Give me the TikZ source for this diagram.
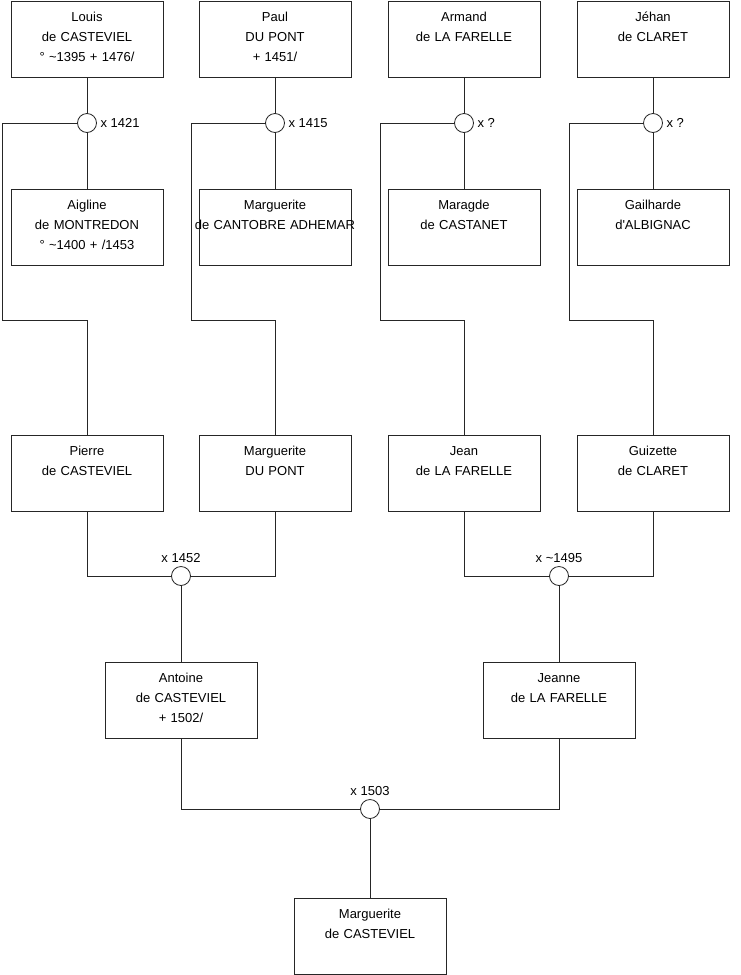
\documentclass[tikz,border=0pt]{standalone}
\usepackage{fontspec}
\setmainfont{Liberation Sans}
\usepackage{tikz}

\begin{document}
\begin{tikzpicture}[x=1pt, y=-1pt, line width=0.8pt,
  person/.style={draw=black!85, anchor=north, text width=140pt, align=center, inner xsep=6pt, inner ysep=8pt,
    text height=12pt, text depth=48pt, font=\fontsize{13}{20}\selectfont},
  wed/.style={draw=black!85, circle, fill=white, minimum size=19pt, inner sep=0pt},
  date/.style={font=\fontsize{13}{15}\selectfont},
  link/.style={draw=black!85}]
\useasboundingbox (0,0) rectangle (740,975);
% grandparents' parents
\node[person] (louis) at (87,1) {Louis\\de CASTEVIEL\\° \textasciitilde1395 + 1476/};
\node[person] (paul) at (275,1) {Paul\\DU PONT\\+ 1451/};
\node[person] (armand) at (464,1) {Armand\\de LA FARELLE};
\node[person] (jehan) at (653,1) {Jéhan\\de CLARET};
\node[wed, label={[date]right:x 1421}] (m1) at (87,123) {};
\node[wed, label={[date]right:x 1415}] (m2) at (275,123) {};
\node[wed, label={[date]right:x ?}] (m3) at (464,123) {};
\node[wed, label={[date]right:x ?}] (m4) at (653,123) {};
\node[person] (aigline) at (87,189) {Aigline\\de MONTREDON\\° \textasciitilde1400 + /1453};
\node[person] (margca) at (275,189) {Marguerite\\\makebox[140pt]{de CANTOBRE ADHEMAR}};
\node[person] (maragde) at (464,189) {Maragde\\de CASTANET};
\node[person] (gailh) at (653,189) {Gailharde\\d\textquotesingle ALBIGNAC};
% grandparents
\node[person] (pierre) at (87,435) {Pierre\\de CASTEVIEL};
\node[person] (margdp) at (275,435) {Marguerite\\DU PONT};
\node[person] (jean) at (464,435) {Jean\\de LA FARELLE};
\node[person] (guiz) at (653,435) {Guizette\\de CLARET};
\node[wed, label={[date]above:x 1452}] (m5) at (181,576) {};
\node[wed, label={[date]above:x \textasciitilde1495}] (m6) at (559,576) {};
% parents
\node[person] (antoine) at (181,662) {Antoine\\de CASTEVIEL\\+ 1502/};
\node[person] (jeanne) at (559,662) {Jeanne\\de LA FARELLE};
\node[wed, label={[date]above:x 1503}] (m7) at (370,809) {};
\node[person] (marg) at (370,898) {Marguerite\\de CASTEVIEL};
% links
\draw[link] (louis) -- (m1) -- (aigline);
\draw[link] (paul) -- (m2) -- (margca);
\draw[link] (armand) -- (m3) -- (maragde);
\draw[link] (jehan) -- (m4) -- (gailh);
\draw[link] (m1.west) -| (2,320) -| (pierre.north);
\draw[link] (m2.west) -| (191,320) -| (margdp.north);
\draw[link] (m3.west) -| (380,320) -| (jean.north);
\draw[link] (m4.west) -| (569,320) -| (guiz.north);
\draw[link] (pierre.south) |- (m5.west);
\draw[link] (margdp.south) |- (m5.east);
\draw[link] (jean.south) |- (m6.west);
\draw[link] (guiz.south) |- (m6.east);
\draw[link] (m5) -- (antoine);
\draw[link] (m6) -- (jeanne);
\draw[link] (antoine.south) |- (m7.west);
\draw[link] (jeanne.south) |- (m7.east);
\draw[link] (m7) -- (marg);
\end{tikzpicture}
\end{document}
